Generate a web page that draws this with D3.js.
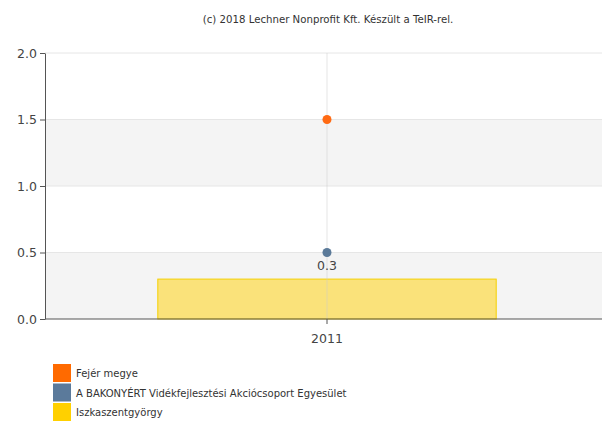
<!DOCTYPE html>
<html>
<head>
<meta charset="utf-8">
<script src="https://cdn.jsdelivr.net/npm/d3@7"></script>
<style>
  body { margin: 0; background: #fff; }
  svg { display: block; font-family: "DejaVu Sans", Verdana, sans-serif; }
</style>
</head>
<body>
<div id="chart"></div>
<script>
const width = 602;
const height = 423;

// data
const years = ['2011'];
const barSeries = { name: 'Iszkaszentgyörgy', color: '#ffd000', values: [0.3] };
const pointSeries = [
  { name: 'Fejér megye', color: '#ff6a13', values: [1.5] },
  { name: 'A BAKONYÉRT Vidékfejlesztési Akciócsoport Egyesület', color: '#5b7a99', values: [0.5] }
];
const yTicks = [0, 0.5, 1.0, 1.5, 2.0];
const legendItems = [
  { name: 'Fejér megye', color: '#ff6a00' },
  { name: 'A BAKONYÉRT Vidékfejlesztési Akciócsoport Egyesület', color: '#5b7a9b' },
  { name: 'Iszkaszentgyörgy', color: '#ffd000' }
];

const margin = { left: 45, top: 53, bottom: 104 };
const plotBottom = height - margin.bottom;

const x = d3.scaleBand().domain(years).range([margin.left, 609]).paddingInner(0).paddingOuter(0);
const y = d3.scaleLinear().domain([0, 2]).range([plotBottom, margin.top]);

const svg = d3.select('#chart').append('svg')
  .attr('width', width)
  .attr('height', height);

svg.append('text')
  .attr('x', 328)
  .attr('y', 23)
  .attr('text-anchor', 'middle')
  .attr('font-size', 10.2)
  .attr('fill', '#333')
  .text('(c) 2018 Lechner Nonprofit Kft. Készült a TeIR-rel.');

// alternating bands
const bands = [[0, 0.5], [1.0, 1.5]];
svg.selectAll('.band').data(bands).enter()
  .append('rect')
    .attr('class', 'band')
    .attr('x', margin.left)
    .attr('width', width - margin.left)
    .attr('y', d => y(d[1]))
    .attr('height', d => y(d[0]) - y(d[1]))
    .attr('fill', '#f4f4f4');

// horizontal grid
svg.selectAll('.hgrid').data(yTicks.slice(1)).enter()
  .append('line')
    .attr('class', 'hgrid')
    .attr('x1', margin.left).attr('x2', width)
    .attr('y1', d => y(d)).attr('y2', d => y(d))
    .attr('stroke', '#e6e6e6');

// bars
const barW = x.bandwidth() * 0.6;
svg.selectAll('.bar').data(barSeries.values).enter()
  .append('rect')
    .attr('class', 'bar')
    .attr('x', (d, i) => x(years[i]) + (x.bandwidth() - barW) / 2)
    .attr('width', barW)
    .attr('y', d => y(d))
    .attr('height', d => plotBottom - y(d))
    .attr('fill', '#ffd000')
    .attr('fill-opacity', 0.5)
    .attr('stroke', '#f5d000')
    .attr('stroke-width', 1);

// vertical grid (shows through the bar)
svg.selectAll('.vgrid').data(years).enter()
  .append('line')
    .attr('class', 'vgrid')
    .attr('x1', d => x(d) + x.bandwidth() / 2)
    .attr('x2', d => x(d) + x.bandwidth() / 2)
    .attr('y1', margin.top).attr('y2', plotBottom)
    .attr('stroke', '#cccccc')
    .attr('stroke-opacity', 0.5);

// bar labels
svg.selectAll('.barlabel').data(barSeries.values).enter()
  .append('text')
    .attr('x', (d, i) => x(years[i]) + x.bandwidth() / 2)
    .attr('y', d => y(d) - 9)
    .attr('text-anchor', 'middle')
    .attr('font-size', 12.5)
    .attr('fill', '#444')
    .text(d => d.toFixed(1));

// points
pointSeries.forEach(s => {
  svg.selectAll(null).data(s.values).enter()
    .append('circle')
      .attr('cx', (d, i) => x(years[i]) + x.bandwidth() / 2)
      .attr('cy', d => y(d))
      .attr('r', 4.5)
      .attr('fill', s.color);
});

// axes
const yAxis = d3.axisLeft(y).tickValues(yTicks).tickFormat(d3.format('.1f')).tickSize(5).tickSizeOuter(0);
const gy = svg.append('g')
  .attr('transform', `translate(${margin.left},0)`)
  .call(yAxis);
gy.select('.domain').attr('stroke', '#555');
gy.selectAll('.tick line').attr('stroke', '#555');
gy.selectAll('.tick text').attr('font-size', 12.5).attr('fill', '#444').attr('font-family', '"DejaVu Sans", Verdana, sans-serif');

svg.append('line')
  .attr('x1', margin.left).attr('x2', width)
  .attr('y1', plotBottom).attr('y2', plotBottom)
  .attr('stroke', '#555');

const xAxis = d3.axisBottom(x).tickSize(5).tickSizeOuter(0);
const gx = svg.append('g')
  .attr('transform', `translate(0,${plotBottom})`)
  .call(xAxis);
gx.select('.domain').remove();
gx.selectAll('.tick line').attr('stroke', '#555');
gx.selectAll('.tick text').attr('font-size', 12.5).attr('fill', '#444').attr('dy', '1.3em').attr('font-family', '"DejaVu Sans", Verdana, sans-serif');

// legend
const legend = svg.append('g').attr('transform', 'translate(53,364)');
const li = legend.selectAll('g').data(legendItems).enter()
  .append('g')
    .attr('transform', (d, i) => `translate(0,${i * 19.5})`);
li.append('rect')
  .attr('width', 18).attr('height', 18)
  .attr('fill', d => d.color);
li.append('text')
  .attr('x', 23).attr('y', 13)
  .attr('font-size', 10)
  .attr('fill', '#333')
  .text(d => d.name);
</script>
</body>
</html>
